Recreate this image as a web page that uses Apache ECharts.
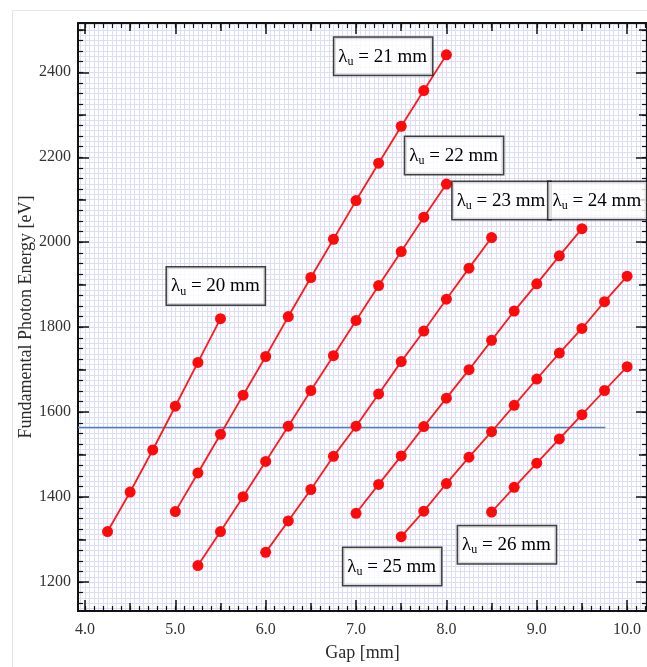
<!DOCTYPE html>
<html>
<head>
<meta charset="utf-8">
<script src="https://cdn.jsdelivr.net/npm/echarts@6/dist/echarts.min.js"></script>
<style>
  html, body { margin: 0; padding: 0; background: #fff; }
  #chart { width: 647px; height: 667px; }
</style>
</head>
<body>
<div id="chart"></div>
<script>
// Undulator period curves: fundamental photon energy vs. magnetic gap
const gap20 = [4.25, 4.5, 4.75, 5.0, 5.25, 5.5];
const energy20 = [1319, 1412, 1511, 1614, 1717, 1820];

const gap21 = [5.0, 5.25, 5.5, 5.75, 6.0, 6.25, 6.5, 6.75, 7.0, 7.25, 7.5, 7.75, 8.0];
const energy21 = [1366, 1457, 1548, 1640, 1731, 1825, 1917, 2007, 2098, 2186, 2273, 2357, 2441];

const gap22 = [5.25, 5.5, 5.75, 6.0, 6.25, 6.5, 6.75, 7.0, 7.25, 7.5, 7.75, 8.0];
const energy22 = [1239, 1319, 1401, 1484, 1567, 1651, 1733, 1816, 1898, 1978, 2059, 2137];

const gap23 = [6.0, 6.25, 6.5, 6.75, 7.0, 7.25, 7.5, 7.75, 8.0, 8.25, 8.5];
const energy23 = [1270, 1344, 1418, 1496, 1567, 1643, 1719, 1791, 1866, 1939, 2011];

const gap24 = [7.0, 7.25, 7.5, 7.75, 8.0, 8.25, 8.5, 8.75, 9.0, 9.25, 9.5];
const energy24 = [1362, 1430, 1497, 1566, 1633, 1700, 1769, 1838, 1902, 1968, 2032];

const gap25 = [7.5, 7.75, 8.0, 8.25, 8.5, 8.75, 9.0, 9.25, 9.5, 9.75, 10.0];
const energy25 = [1307, 1367, 1432, 1494, 1554, 1616, 1678, 1739, 1797, 1860, 1920];

const gap26 = [8.5, 8.75, 9.0, 9.25, 9.5, 9.75, 10.0];
const energy26 = [1365, 1423, 1480, 1537, 1594, 1651, 1707];

// target energy reference line
const targetGap = [3.923, 9.76];
const targetEnergy = [1564, 1564];

const periods = ['20', '21', '22', '23', '24', '25', '26'];
const xTickLabels = [4, 5, 6, 7, 8, 9, 10];
const yTickLabels = [1200, 1400, 1600, 1800, 2000, 2200, 2400];

// where each period tag sits, in (gap, energy) units
const tagPlacement = [
  [5.448, 1897], [7.30, 2438], [8.085, 2204], [8.61, 2098],
  [9.67, 2098], [7.40, 1237], [8.67, 1288]
];

const X_MIN = 3.923, X_MAX = 10.22;
const Y_MIN = 1132, Y_MAX = 2516;

function range(start, stop, step) {
  const out = [];
  for (let i = 0; ; i++) {
    const v = +(start + i * step).toFixed(4);
    if (v > stop + 1e-9) break;
    out.push(v);
  }
  return out;
}

const SERIF = '"Liberation Serif", "DejaVu Serif", serif';
const INK = '#111';

function axisSet(dim, min, max, majors, mids, minors, fine, labelFmt) {
  const sides = dim === 'x' ? ['bottom', 'top'] : ['left', 'right'];
  const axes = [];
  const base = { type: 'value', min: min, max: max, scale: true };
  sides.forEach(function (side, si) {
    // major ticks (+ labels on the primary side)
    axes.push(Object.assign({}, base, {
      position: side,
      axisLine: { show: true, onZero: false, lineStyle: { color: INK, width: 2 } },
      axisTick: { show: true, inside: true, length: 11, customValues: majors, lineStyle: { color: INK, width: 1.5 } },
      axisLabel: si === 0 ? {
        show: true, customValues: majors, formatter: labelFmt,
        fontFamily: SERIF, fontSize: 16, color: '#333',
        margin: dim === 'x' ? 11 : 7
      } : { show: false },
      splitLine: { show: false }
    }));
    // half ticks
    axes.push(Object.assign({}, base, {
      position: side,
      axisLine: { show: false, onZero: false },
      axisTick: { show: true, inside: true, length: 8, customValues: mids, lineStyle: { color: INK, width: 1.5 } },
      axisLabel: { show: false },
      splitLine: { show: false }
    }));
    // minor ticks
    axes.push(Object.assign({}, base, {
      position: side,
      axisLine: { show: false, onZero: false },
      axisTick: { show: true, inside: true, length: 5, customValues: minors, lineStyle: { color: INK, width: 1.2 } },
      axisLabel: { show: false },
      splitLine: { show: false }
    }));
  });
  // fine background grid
  axes.push(Object.assign({}, base, {
    position: sides[0],
    axisLine: { show: false, onZero: false },
    axisTick: { show: false, customValues: fine },
    axisLabel: { show: false },
    splitLine: { show: true, lineStyle: { color: '#dcdcfb', width: 1 } }
  }));
  return axes;
}

const xAxes = axisSet('x', X_MIN, X_MAX,
  xTickLabels,
  range(4.5, 9.5, 1),
  range(4.0, 10.2, 0.1),
  range(3.95, 10.2, 0.05),
  function (v) { return v.toFixed(1); });
xAxes[0].name = 'Gap [mm]';
xAxes[0].nameLocation = 'middle';
xAxes[0].nameGap = 33;
xAxes[0].nameMoveOverlap = false;
xAxes[0].nameTextStyle = { fontFamily: SERIF, fontSize: 18, color: '#2a2a2a' };

const yAxes = axisSet('y', Y_MIN, Y_MAX,
  yTickLabels,
  range(1300, 2500, 200),
  range(1150, 2500, 25),
  range(1137.5, 2512.5, 12.5),
  function (v) { return String(v); });
yAxes[0].name = 'Fundamental Photon Energy [eV]';
yAxes[0].nameLocation = 'middle';
yAxes[0].nameRotate = 90;
yAxes[0].nameGap = 43;
yAxes[0].nameMoveOverlap = false;
yAxes[0].nameTextStyle = { fontFamily: SERIF, fontSize: 18, color: '#2a2a2a' };

const gapsByPeriod = [gap20, gap21, gap22, gap23, gap24, gap25, gap26];
const energyByPeriod = [energy20, energy21, energy22, energy23, energy24, energy25, energy26];

function pairs(xs, ys) { return xs.map(function (x, i) { return [x, ys[i]]; }); }

const series = [];
series.push({
  type: 'line', name: 'target', data: pairs(targetGap, targetEnergy),
  symbol: 'none', z: 2, silent: true,
  lineStyle: { color: '#4f7fbf', width: 1.5 }
});
periods.forEach(function (p, i) {
  series.push({
    type: 'line', name: 'λu = ' + p + ' mm', data: pairs(gapsByPeriod[i], energyByPeriod[i]),
    symbol: 'circle', symbolSize: 11, z: 3, silent: true,
    itemStyle: { color: '#ff0a0a' },
    lineStyle: { color: '#ff1a1a', width: 1.8 }
  });
});
const tagText = { fontFamily: SERIF, color: '#000', lineHeight: 22, textBorderWidth: 0, opacity: 1 };
series.push({
  type: 'scatter', name: 'tags', z: 5, silent: true,
  symbolSize: 1, itemStyle: { color: '#fff' },
  data: tagPlacement.map(function (pos, i) { return { value: pos, name: periods[i] }; }),
  label: {
    show: true, position: 'inside',
    formatter: function (d) { return '{l|λ}{s|u}{t| = ' + d.name + ' mm}'; },
    color: '#000', textBorderWidth: 0,
    backgroundColor: '#fff', borderColor: '#111', borderWidth: 1.5,
    padding: [8, 5, 7, 4],
    rich: {
      l: Object.assign({ fontSize: 19 }, tagText),
      s: Object.assign({ fontSize: 12, verticalAlign: 'bottom', padding: [6, 0, 0, 0] }, tagText),
      t: Object.assign({ fontSize: 19 }, tagText)
    }
  }
});

const chart = echarts.init(document.getElementById('chart'), null, { renderer: 'canvas' });
chart.setOption({
  animation: false,
  backgroundColor: '#fff',
  grid: { left: 78, top: 23, width: 572, height: 593, containLabel: false },
  xAxis: xAxes,
  yAxis: yAxes,
  series: series,
  graphic: [{
    type: 'rect', silent: true, z: -10,
    shape: { x: 12.5, y: 10.5, width: 700, height: 700 },
    style: { fill: 'none', stroke: '#e6e6e6', lineWidth: 1 }
  }]
});
</script>
</body>
</html>
